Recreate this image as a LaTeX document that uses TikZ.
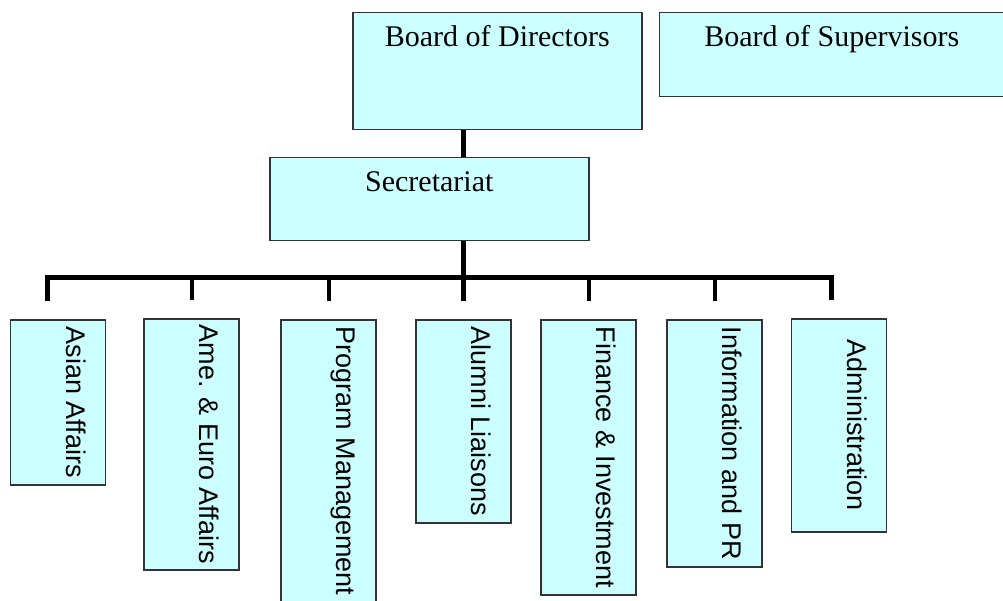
\documentclass[tikz,border=0pt]{standalone}
\usepackage{fontspec}
\setmainfont{Liberation Serif}
\setsansfont{Liberation Sans}
\usetikzlibrary{positioning}
\definecolor{boxfill}{HTML}{CCFFFF}
\definecolor{boxline}{HTML}{333333}

\begin{document}
\begin{tikzpicture}[x=1pt, y=-1pt,
  box/.style={draw=boxline, fill=boxfill, line width=1.5pt, inner xsep=0pt, inner ysep=0pt},
  topbox/.style={box, font=\fontsize{30}{30}\selectfont, text height=34pt},
  dept/.style={box, rotate=-90, anchor=west, minimum height=95pt, font=\sffamily\fontsize{27}{27}\selectfont, text height=39.5pt, text depth=55.5pt},
  link/.style={line width=5pt, black},
  drop/.style={line width=4pt, black, shorten >=18pt}]
\useasboundingbox (0,0) rectangle (1003,601);
  \node[topbox, minimum width=289pt, text depth=83pt, anchor=north west] (board_dir) at (352,12) {Board of Directors};
\node[topbox, minimum width=345pt, text depth=50pt, right=16pt of board_dir.north east, anchor=north west] (board_sup) {Board of Supervisors};
\node[topbox, minimum width=319pt, text depth=49pt, anchor=north west] (secretariat) at (269,157) {Secretariat};
% departments
\node[dept, minimum width=165pt] (asian_aff) at (58,319) {Asian Affairs};
\node[dept, minimum width=251pt] (ame_euro) at (191.5,318) {Ame. \& Euro Affairs};
\node[dept, minimum width=283pt] (prog_mgmt) at (328.5,319) {Program Management};
\node[dept, minimum width=203pt] (alumni) at (463.5,319) {Alumni Liaisons};
\node[dept, minimum width=275pt] (finance) at (588.5,319) {Finance \& Investment};
\node[dept, minimum width=247pt] (info_pr) at (714.5,319) {Information and PR};
\node[dept, minimum width=213pt] (admin) at (839,318) {Administration};
\coordinate (hub) at (463,278);
\coordinate (bar_l) at (47,278);
\coordinate (bar_r) at (831,278);
\draw[link] (board_dir.south -| hub) -- (secretariat.north -| hub);
\draw[link] (secretariat.south -| hub) -- (hub);
\draw[link, shorten <=18pt, shorten >=18pt] (bar_l |- asian_aff.west) -- (bar_l) -- (bar_r) -- (bar_r |- admin.west);
\draw[drop] (ame_euro.west |- hub) -- (ame_euro.west);
\draw[drop] (prog_mgmt.west |- hub) -- (prog_mgmt.west);
\draw[drop, line width=5pt] (alumni.west |- hub) -- (alumni.west);
\draw[drop] (finance.west |- hub) -- (finance.west);
\draw[drop] (info_pr.west |- hub) -- (info_pr.west);
\end{tikzpicture}
\end{document}
